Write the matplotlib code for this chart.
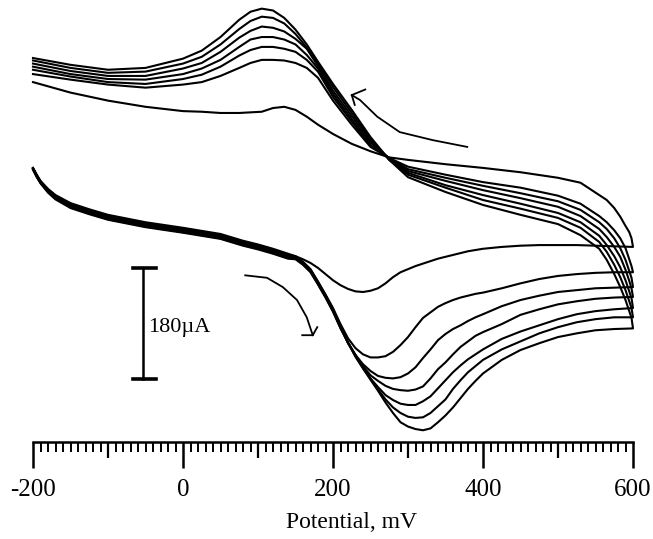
import matplotlib.pyplot as plt
from matplotlib.ticker import MultipleLocator

plt.rcParams['font.family'] = ['Liberation Serif', 'DejaVu Serif']

# potential grid (mV): forward sweep and return sweep (both ascending)
e_fwd = [-200, -195, -190, -180, -170, -150, -125, -100, -50, 0, 50, 80, 100, 120, 140,
         150, 160, 170, 180, 190, 200, 210, 220, 230, 240, 250, 260, 270, 280, 290,
         300, 310, 320, 330, 340, 350, 360, 370, 380, 390, 400,
         425, 450, 475, 500, 525, 550, 575, 600]
e_rev = [-200, -150, -100, -50, 0, 25, 50, 75, 90, 105, 120, 135, 150, 165, 180,
         200, 225, 250, 275, 300, 350, 400, 450,
         500, 530, 555, 565, 575, 583, 590, 595, 598, 600]

# current (uA) on the forward sweep, one list per scan
fwd_0 = [133, 122, 112, 99, 89, 76, 66, 57, 45, 36, 26, 15, 9, 2, -6,
         -10, -15, -21, -29, -39, -49, -57, -63, -67, -68, -66, -62, -54, -44, -36,
         -31, -26, -22, -18, -14, -11, -8, -5, -2, 0, 2,
         5, 7, 8, 8, 8, 7, 6, 5]
fwd_1 = [133, 121, 111, 98, 88, 75, 64, 55, 43, 34, 24, 13, 7, 0, -8,
         -10, -19, -31, -51, -72, -94, -120, -143, -159, -169, -174, -174, -172, -165, -154,
         -141, -125, -110, -101, -92, -86, -81, -77, -74, -71, -69,
         -62, -54, -47, -42, -39, -37, -36, -36]
fwd_2 = [132, 121, 111, 97, 87, 73, 63, 54, 42, 33, 23, 12, 6, -1, -9,
         -11, -20, -32, -52, -73, -96, -123, -151, -170, -185, -196, -204, -207, -208, -206,
         -200, -190, -175, -161, -146, -136, -128, -122, -115, -109, -104,
         -91, -81, -74, -68, -65, -62, -61, -60]
fwd_3 = [132, 120, 110, 96, 86, 72, 62, 53, 41, 32, 22, 11, 5, -2, -10,
         -12, -21, -33, -53, -74, -97, -124, -150, -170, -188, -203, -212, -220, -225, -227,
         -228, -226, -221, -208, -193, -182, -169, -157, -148, -139, -133,
         -120, -105, -96, -88, -83, -79, -77, -76]
fwd_4 = [131, 119, 109, 95, 84, 71, 60, 51, 39, 30, 20, 9, 3, -4, -12,
         -13, -22, -34, -54, -75, -98, -125, -150, -171, -190, -208, -222, -235, -243, -249,
         -251, -251, -245, -237, -224, -211, -198, -187, -177, -169, -161,
         -144, -132, -122, -112, -104, -99, -96, -94]
fwd_5 = [131, 119, 109, 94, 83, 70, 59, 50, 38, 29, 19, 8, 2, -5, -13,
         -14, -23, -35, -55, -76, -99, -126, -150, -172, -191, -209, -226, -242, -255, -264,
         -270, -272, -271, -264, -253, -242, -225, -211, -198, -188, -178,
         -161, -148, -135, -125, -117, -112, -109, -109]
fwd_6 = [130, 118, 108, 93, 82, 68, 58, 49, 37, 28, 18, 7, 1, -6, -14,
         -15, -24, -36, -56, -77, -100, -127, -150, -173, -192, -210, -228, -247, -264, -279,
         -286, -290, -292, -289, -279, -268, -255, -240, -225, -212, -200,
         -178, -162, -151, -141, -135, -130, -128, -127]

# current (uA) on the return sweep
rev_0 = [272, 255, 242, 232, 225, 224, 222, 222, 223, 224, 230, 232, 227, 216, 203,
         188, 172, 160, 150, 146, 139, 133, 126,
         117, 109, 89, 81, 68, 54, 39, 29, 19, 5]
rev_1 = [285, 276, 268, 263, 268, 272, 282, 295, 303, 308, 308, 307, 303, 295, 279,
         242, 203, 167, 149, 135, 122, 110, 101,
         88, 75, 55, 45, 32, 19, 3, -15, -26, -36]
rev_2 = [292, 281, 272, 269, 277, 284, 297, 315, 324, 329, 329, 326, 321, 308, 289,
         248, 208, 170, 149, 131, 117, 104, 92,
         79, 65, 45, 34, 19, 3, -16, -34, -45, -60]
rev_3 = [297, 285, 277, 276, 285, 294, 308, 329, 341, 345, 345, 341, 333, 316, 294,
         253, 212, 174, 148, 128, 112, 97, 84,
         70, 55, 34, 21, 5, -11, -32, -50, -62, -76]
rev_4 = [302, 290, 282, 282, 294, 303, 321, 344, 355, 362, 360, 354, 342, 326, 298,
         258, 217, 177, 148, 125, 105, 89, 75,
         60, 45, 23, 8, -10, -28, -49, -67, -78, -94]
rev_5 = [307, 295, 287, 289, 302, 313, 333, 358, 371, 378, 376, 367, 350, 328, 302,
         264, 222, 180, 146, 122, 101, 81, 67,
         52, 36, 13, -3, -24, -44, -65, -83, -94, -109]
rev_6 = [311, 300, 292, 295, 310, 323, 345, 373, 386, 391, 388, 376, 357, 333, 305,
         269, 227, 183, 146, 118, 94, 73, 57,
         42, 24, 2, -16, -39, -60, -81, -99, -110, -127]

fwd_scans = [fwd_0, fwd_1, fwd_2, fwd_3, fwd_4, fwd_5, fwd_6]
rev_scans = [rev_0, rev_1, rev_2, rev_3, rev_4, rev_5, rev_6]

fig = plt.figure(figsize=(6.53, 5.39), dpi=100)
ax = fig.add_axes([33 / 653, 97 / 539, 600 / 653, 442 / 539])

# each voltammogram: forward sweep then back along the return sweep
for f, r in zip(fwd_scans, rev_scans):
    ax.plot(e_fwd + e_rev[::-1], f + r[::-1], color='k', lw=1.5,
            solid_joinstyle='round', clip_on=False)

# scan direction arrows
ax.plot([379, 333, 289, 259, 236, 225], [167, 178, 191, 216, 243, 251], color='k', lw=1.3)
ax.plot([243, 225, 229], [260, 251, 235], color='k', lw=1.3)
ax.plot([83, 112, 133, 152, 165, 173], [-41, -45, -60, -81, -109, -138], color='k', lw=1.3)
ax.plot([159, 173, 179], [-138, -138, -125], color='k', lw=1.3)

# 180 uA scale bar
ax.plot([-53.3, -53.3], [-29, -209], color='k', lw=1.8)
ax.plot([-66.7, -36], [-29, -29], color='k', lw=2.6)
ax.plot([-66.7, -36], [-209, -209], color='k', lw=2.6)
ax.text(-47, -126, '180\u00b5A', fontsize=16, va='center', ha='left')

ax.set_xlim(-200, 600)
ax.set_ylim(-311, 405)
ax.set_yticks([])
for s in ['left', 'right', 'top']:
    ax.spines[s].set_visible(False)
ax.spines['bottom'].set_linewidth(1.8)

ax.set_xticks([-200, 0, 200, 400, 600], labels=['-200', '0', '200', '400', '600'])
ax.xaxis.set_minor_locator(MultipleLocator(10))
ax.tick_params(axis='x', which='major', direction='out', length=19, width=1.8,
               pad=8, labelsize=18)
ax.tick_params(axis='x', which='minor', direction='out', length=7, width=1.4)

# mid ticks every 100 mV
sec = ax.secondary_xaxis('bottom')
sec.set_xticks([-100, 100, 300, 500])
sec.tick_params(length=11.5, width=1.6, labelbottom=False)
sec.spines['bottom'].set_visible(False)

fig.text(352 / 653, 1 - 523 / 539, 'Potential, mV', ha='center', va='center', fontsize=17)

fig.savefig('out.png', dpi=100)
